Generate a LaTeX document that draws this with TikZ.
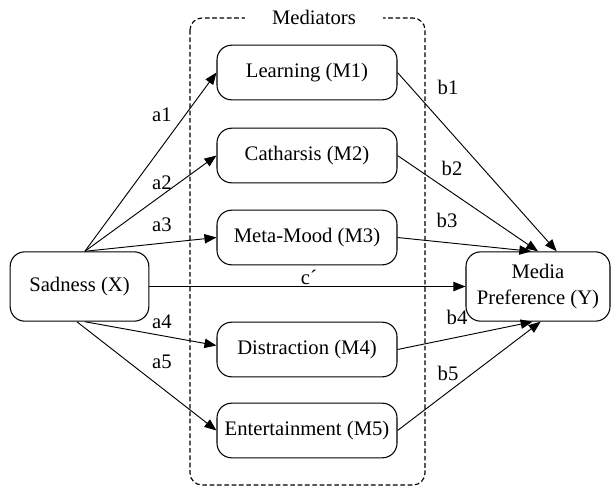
\documentclass[tikz,border=0pt]{standalone}
\usepackage{fontspec}
\setmainfont{Liberation Serif}
\usetikzlibrary{arrows.meta}

\begin{document}
\begin{tikzpicture}[x=0.75pt,y=-0.75pt,line width=0.7pt,>={Triangle[length=9pt,width=7pt]},
    font=\fontsize{15.5}{20}\selectfont,
    varbox/.style={draw,line width=0.8pt,rounded corners=11pt,minimum width=135pt,minimum height=41pt,align=center,inner sep=2pt}]
    \useasboundingbox (0,0) rectangle (611,487);

    % the dashed mediator frame
    \draw[line width=0.85pt,dash pattern=on 3.5pt off 2pt,rounded corners=9pt] (190,18) rectangle (425,485);
    \node[fill=white,inner xsep=20pt,inner ysep=1pt] (medlabel) at (314,17) {Mediators};

    % the variables
    \node[varbox,minimum width=104pt,minimum height=52pt] (X) at (79.5,286.5) {Sadness (X)};
    \node[varbox,minimum width=108pt,minimum height=52pt] (Y) at (538,286.5) {Media\\Preference (Y)};

    % the mediators
    \node[varbox] (M1) at (307,72.5) {Learning (M1)};
    \node[varbox] (M2) at (307,155.5) {Catharsis (M2)};
    \node[varbox] (M3) at (307,237.5) {Meta-Mood (M3)};
    \node[varbox] (M4) at (307,349.5) {Distraction (M4)};
    \node[varbox] (M5) at (307,430.5) {Entertainment (M5)};

    % a paths
    \draw[->] ([xshift=4pt]X.north) -- (M1.west);
    \draw[->] ([xshift=4pt]X.north) -- (M2.west);
    \draw[->] ([xshift=4pt]X.north) -- (M3.west);
    \draw[->] ([xshift=4pt]X.south) -- ([yshift=3pt]M4.west);
    \draw[->] ([xshift=-2pt]X.south) -- (M5.west);

    % b paths
    \draw[->] (M1.east) -- ([xshift=14pt]Y.north);
    \draw[->] (M2.east) -- (Y.north);
    \draw[->] (M3.east) -- ([xshift=-5pt]Y.north);
    \draw[->] (M4.east) -- ([xshift=-4pt]Y.south);
    \draw[->] (M5.east) -- ([xshift=2pt]Y.south);

    % direct path
    \draw[->] (X.east) -- (Y.west);

    % path labels
    \node (la1) at (162,115) {a1};
    \node (la2) at (162,183) {a2};
    \node (la3) at (162,225) {a3};
    \node (la4) at (162,322) {a4};
    \node (la5) at (162,362) {a5};
    \node (lb1) at (448,87) {b1};
    \node (lb2) at (452,168) {b2};
    \node (lb3) at (447,220) {b3};
    \node (lb4) at (457,317) {b4};
    \node (lb5) at (448,373) {b5};
    \node (lc) at (309,277) {c´};
\end{tikzpicture}
\end{document}
